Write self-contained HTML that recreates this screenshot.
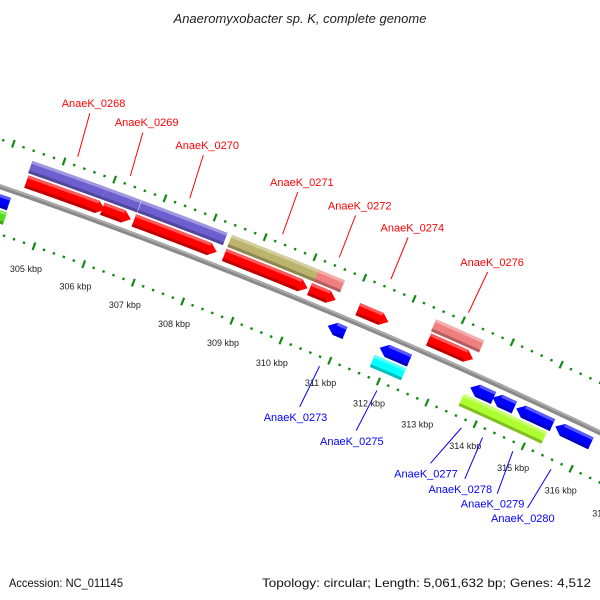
<!DOCTYPE html>
<html><head><meta charset="utf-8"><title>Anaeromyxobacter sp. K genome map</title>
<style>html,body{margin:0;padding:0;background:#fff;}svg{display:block;}</style></head>
<body>
<svg id="map" width="600" height="600" viewBox="0 0 600 600" xmlns="http://www.w3.org/2000/svg" font-family="Liberation Sans, DejaVu Sans, sans-serif">
<rect width="600" height="600" fill="#fff"/>
<text x="300" y="23" text-anchor="middle" font-size="13" font-style="italic" fill="#222">Anaeromyxobacter sp. K, complete genome</text>
<g id="rings"></g>
<g id="backbone"></g>
<g id="genes"></g>
<g id="labels"></g>
<text x="9" y="587" font-size="12" fill="#111" textLength="114" lengthAdjust="spacingAndGlyphs">Accession: NC_011145</text>
<text x="591" y="587" font-size="12" fill="#111" text-anchor="end" textLength="329" lengthAdjust="spacingAndGlyphs">Topology: circular; Length: 5,061,632 bp; Genes: 4,512</text>
</svg>
<script>
// ---- data (kbp) ----
const geneStart = [303.9, 304.0, 304.44, 305.9, 304.46, 305.97, 306.61, 306.60, 308.41, 308.41, 310.15, 310.13, 311.11, 312.53, 312.55, 310.71, 311.77, 311.74, 313.63, 314.09, 314.58, 315.39, 313.57, 314.02, 314.46];
const geneEnd   = [304.29, 304.31, 305.9, 306.60, 306.02, 306.54, 308.32, 308.26, 310.15, 310.09, 310.68, 310.66, 311.73, 313.51, 313.46, 311.06, 312.38, 312.38, 314.11, 314.54, 315.33, 316.13, 314.02, 314.48, 315.29];
const geneStrand = [-1, 0, 0, 0, 1, 1, 0, 1, 0, 1, 0, 1, 1, 0, 1, -1, -1, 0, -1, -1, -1, -1, 0, 0, 0];
const geneLane  = [-1, -2, 2, 2, 1, 1, 2, 1, 2, 1, 2, 1, 1, 2, 1, -1, -1, -2, -1, -1, -1, -1, -2, -2, -2];
const geneColor = ["#0000ff","#55dd22","#6d5fcf","#6d5fcf","#ff0000","#ff0000","#6d5fcf","#ff0000","#bcb46c","#ff0000","#f08080","#ff0000","#ff0000","#f08080","#ff0000","#0000ff","#0000ff","#00ffff","#0000ff","#0000ff","#0000ff","#0000ff","#adff2f","#adff2f","#adff2f"];

const labelNames = ["AnaeK_0268","AnaeK_0269","AnaeK_0270","AnaeK_0271","AnaeK_0272","AnaeK_0274","AnaeK_0276","AnaeK_0273","AnaeK_0275","AnaeK_0277","AnaeK_0278","AnaeK_0279","AnaeK_0280"];
const labelAnchor = [305.21, 306.25, 307.43, 309.28, 310.42, 311.46, 313.03, 310.86, 312.04, 313.79, 314.23, 314.86, 315.66];
const labelTextPos = [305.15, 306.19, 307.38, 309.25, 310.40, 311.45, 313.05, 310.81, 311.98, 313.53, 314.25, 314.93, 315.57];
const labelSide = [1,1,1,1,1,1,1,-1,-1,-1,-1,-1,-1];

const tickStartKbp = 303; const tickEndKbp = 318;
const tickLabelKbp = [304,305,306,307,308,309,310,311,312,313,314,315,316,317];

// ---- geometry ----
const CX = -1854, CY = 5563, R0 = 5687;
const A0 = -70.45, DEG_PER_KBP = 0.537;
const NS = "http://www.w3.org/2000/svg";
function ang(k){ return (A0 + DEG_PER_KBP*(k-305))*Math.PI/180; }
function pt(k, r){ const a = ang(k); return [CX + r*Math.cos(a), CY + r*Math.sin(a)]; }
function mk(tag, attrs, parent){ const e = document.createElementNS(NS, tag); for (const k in attrs) e.setAttribute(k, attrs[k]); parent.appendChild(e); return e; }
function arcPts(k1, k2, r, n){ const a=[]; for(let i=0;i<=n;i++){ a.push(pt(k1+(k2-k1)*i/n, r)); } return a; }
function poly(ptsArr){ return ptsArr.map(p=>p[0].toFixed(2)+","+p[1].toFixed(2)).join(" "); }

// rings
const rings = document.getElementById('rings');
[[5732,'outer'],[5642,'inner']].forEach(([r,nm])=>{
  for (let i=0; i<=Math.round((tickEndKbp-tickStartKbp)/0.2); i++){
    const k = tickStartKbp + i*0.2;
    const major = Math.abs(k-Math.round(k))<1e-6;
    const len = major?4:1.2;
    const p1 = pt(k, r-len), p2 = pt(k, r+len);
    const l = mk('line',{x1:p1[0],y1:p1[1],x2:p2[0],y2:p2[1],stroke:'#138a13','stroke-width':major?2.2:2.4,'stroke-linecap':'butt'},rings);
    
    
  }
});
tickLabelKbp.forEach(k=>{
  const p = pt(k, 5618);
  const t = mk('text',{x:p[0],y:p[1]+3,'text-anchor':'middle','font-size':'9',fill:'#222'},rings);
  t.textContent = k+' kbp';
  
  
});

// backbone
const bb = document.getElementById('backbone');
const bpts = arcPts(302.5, 318.5, R0, 40);
const b1 = mk('polyline',{points:poly(bpts),fill:'none',stroke:'#8a8a8a','stroke-width':5},bb);


const b2 = mk('polyline',{points:poly(arcPts(302.5,318.5,R0+1.3,40)),fill:'none',stroke:'#b0b0b0','stroke-width':1.5},bb);



// genes
const genesG = document.getElementById('genes');
const H = 0.15; // arrow head length in kbp
function laneR(l){ const s = Math.sign(l); return Math.abs(l)===1 ? [R0+s*7, R0+s*20] : [R0+s*22, R0+s*35]; }
function shade(hex, f){ const n=parseInt(hex.slice(1),16); let r=n>>16,g=(n>>8)&255,b=n&255;
  const m = c=> f>0 ? Math.round(c+(255-c)*f) : Math.round(c*(1+f)); return 'rgb('+m(r)+','+m(g)+','+m(b)+')'; }
for (let i=0;i<geneStart.length;i++){
  const [ra, rb] = laneR(geneLane[i]);
  const rOut = Math.max(ra,rb), rIn = Math.min(ra,rb), rMid=(rOut+rIn)/2;
  const k1 = geneStart[i], k2 = geneEnd[i], s = geneStrand[i];
  let P;
  if (s===1){ const kh=Math.max(k1,k2-H); P=[...arcPts(k1,kh,rOut,6), pt(k2,rMid), ...arcPts(kh,k1,rIn,6)]; }
  else if (s===-1){ const kh=Math.min(k2,k1+H); P=[pt(k1,rMid), ...arcPts(kh,k2,rOut,6), ...arcPts(k2,kh,rIn,6)]; }
  else { P=[...arcPts(k1,k2,rOut,6), ...arcPts(k2,k1,rIn,6)]; }
  const g = mk('g',{},genesG);
  
  
  mk('polygon',{points:poly(P),fill:geneColor[i]},g);
  // 3D shading: light outer edge strip, dark inner edge strip
  const e1 = (s===-1)?k1+H:k1, e2 = (s===1)?k2-H:k2;
  mk('polygon',{points:poly([...arcPts(e1,e2,rOut,4),...arcPts(e2,e1,rOut-3,4)]),fill:shade(geneColor[i],0.35)},g);
  mk('polygon',{points:poly([...arcPts(e1,e2,rIn+3,4),...arcPts(e2,e1,rIn,4)]),fill:shade(geneColor[i],-0.25)},g);
}

// gene labels
const labG = document.getElementById('labels');
for (let i=0;i<labelNames.length;i++){
  const s = labelSide[i];
  const col = s>0 ? '#ff0000' : '#0000ff';
  const p1 = pt(labelAnchor[i], R0 + s*54);
  const p2 = pt(labelTextPos[i], R0 + s*99);
  const l = mk('line',{x1:p1[0],y1:p1[1],x2:p2[0],y2:p2[1],stroke:col,'stroke-width':1},labG);
  
  
  const pt3 = pt(labelTextPos[i], R0 + s*110);
  const t = mk('text',{x:pt3[0],y:pt3[1]+4,'text-anchor':'middle','font-size':'11',fill:col},labG);
  t.textContent = labelNames[i];
  
  
}
</script>
</body></html>
